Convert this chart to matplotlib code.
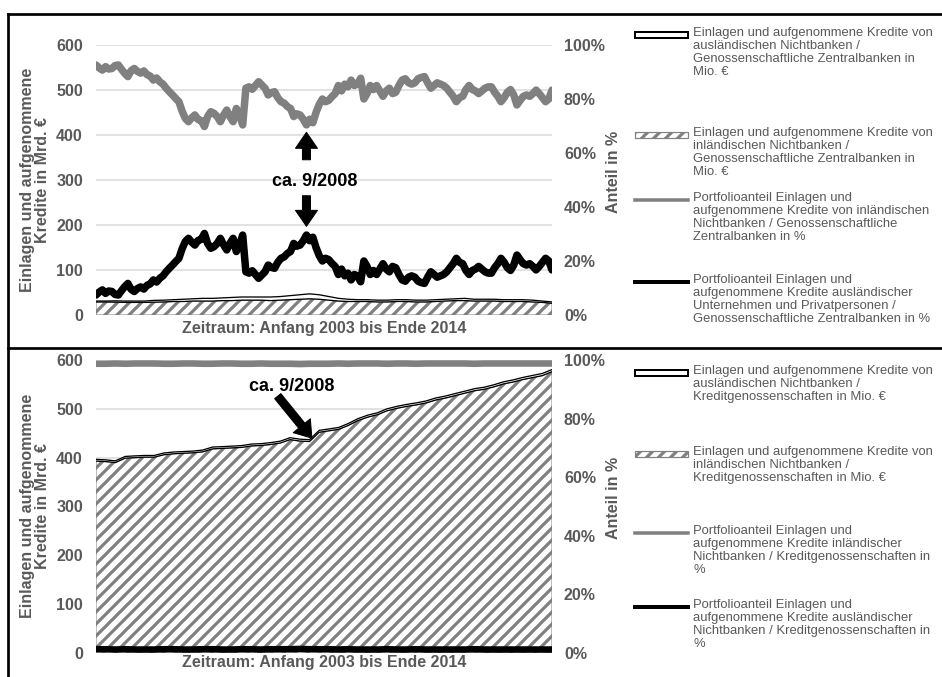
import numpy as np
import matplotlib
matplotlib.use("Agg")
import matplotlib.pyplot as plt
from matplotlib.lines import Line2D
from matplotlib.patches import Rectangle

plt.rcParams['font.family'] = ['Liberation Sans', 'DejaVu Sans']
plt.rcParams['hatch.color'] = '#808080'
plt.rcParams['hatch.linewidth'] = 3.2

W, H, DPI = 942, 677, 72
GRAY = '#808080'
TXT = '#595959'

# --- Genossenschaftliche Zentralbanken, monthly shares in % (2003-2014)
share_foreign_zb = [
    7.4, 8.5, 9.3, 8.0, 8.9, 8.7, 7.6, 7.4, 9.0, 10.5, 11.7, 9.5,
    8.7, 9.8, 10.4, 9.6, 11.0, 11.5, 13.0, 12.2, 13.6, 14.5, 16.0, 17.3,
    18.5, 19.8, 21.0, 24.5, 27.2, 28.4, 27.0, 25.9, 27.6, 28.0, 30.2, 26.5,
    24.7, 25.3, 26.5, 28.4, 26.0, 24.1, 26.5, 28.4, 23.5, 26.0, 29.6, 16.0,
    15.5, 16.4, 15.0, 13.6, 14.8, 16.0, 18.5, 17.6, 17.3, 19.5, 21.0, 21.5,
    22.8, 23.5, 26.5, 25.5, 25.9, 27.5, 29.6, 27.5, 28.8, 25.0, 22.0, 20.0,
    21.0, 20.5, 19.1, 18.0, 15.0, 17.0, 14.5, 15.5, 13.0, 15.0, 14.5, 12.3,
    20.0, 18.0, 15.0, 16.5, 15.0, 17.0, 19.0, 17.0, 16.0, 18.0, 17.5, 15.0,
    13.0, 12.5, 14.0, 14.5, 14.0, 12.5, 12.0, 11.7, 14.0, 16.0, 15.0, 14.0,
    14.5, 15.0, 16.0, 17.5, 19.0, 21.0, 19.5, 19.0, 16.5, 15.0, 16.5, 17.0,
    18.0, 17.0, 16.0, 15.5, 15.5, 17.5, 19.0, 21.0, 19.5, 17.5, 16.5, 18.5,
    22.2, 20.5, 19.0, 18.5, 19.0, 18.0, 16.7, 18.0, 19.5, 21.0, 20.0, 16.7,
]
share_domestic_zb = [
    92.6, 91.5, 90.7, 92.0, 91.1, 91.3, 92.4, 92.6, 91.0, 89.5, 88.3, 90.5,
    91.3, 90.2, 89.6, 90.4, 89.0, 88.5, 87.0, 87.8, 86.4, 85.5, 84.0, 82.7,
    81.5, 80.2, 79.0, 75.5, 72.8, 71.6, 73.0, 74.1, 72.4, 72.0, 69.8, 73.5,
    75.3, 74.7, 73.5, 71.6, 74.0, 75.9, 73.5, 71.6, 76.5, 74.0, 70.4, 84.0,
    84.5, 83.6, 85.0, 86.4, 85.2, 84.0, 81.5, 82.4, 82.7, 80.5, 79.0, 78.5,
    77.2, 76.5, 73.5, 74.5, 74.1, 72.5, 70.4, 72.5, 71.2, 75.0, 78.0, 80.0,
    79.0, 79.5, 80.9, 82.0, 85.0, 83.0, 85.5, 84.5, 87.0, 85.0, 85.5, 87.7,
    80.0, 82.0, 85.0, 83.5, 85.0, 83.0, 81.0, 83.0, 84.0, 82.0, 82.5, 85.0,
    87.0, 87.5, 86.0, 85.5, 86.0, 87.5, 88.0, 88.3, 86.0, 84.0, 85.0, 86.0,
    85.5, 85.0, 84.0, 82.5, 81.0, 79.0, 80.5, 81.0, 83.5, 85.0, 83.5, 83.0,
    82.0, 83.0, 84.0, 84.5, 84.5, 82.5, 81.0, 79.0, 80.5, 82.5, 83.5, 81.5,
    77.8, 79.5, 81.0, 81.5, 81.0, 82.0, 83.3, 82.0, 80.5, 79.0, 80.0, 83.3,
]
# quarterly deposits in Mrd. EUR
dep_domestic_zb = [29, 29, 28.5, 28, 28, 28, 28.5, 29, 30, 30, 31, 31,
                   31, 32, 32, 33, 33, 33, 32, 33, 34, 35, 36, 35,
                   33, 31, 30, 30, 30, 29, 29, 30, 30, 29, 29, 30,
                   31, 32, 32, 31, 31, 31, 30, 30, 30, 29, 28, 26]
dep_foreign_zb = [2, 2, 3, 3, 3, 3, 4, 4, 4, 5, 5, 6,
                  6, 6, 7, 7, 7, 7, 8, 8, 9, 10, 11, 10,
                  8, 6, 5, 4, 4, 4, 4, 4, 4, 4, 4, 4,
                  4, 4, 5, 4, 4, 4, 4, 4, 4, 4, 3, 3]

# --- Kreditgenossenschaften, quarterly
dep_domestic_kg = [393, 392, 390, 399, 400, 401, 401, 406, 408, 409, 410, 412,
                   418, 419, 420, 421, 424, 425, 427, 430, 437, 434, 433, 452,
                   455, 458, 466, 476, 483, 488, 496, 501, 505, 508, 512, 518,
                   522, 527, 532, 537, 540, 545, 551, 555, 560, 564, 568, 576]
dep_foreign_kg = [3.5, 3.5, 3.4, 3.5, 3.6, 3.5, 3.5, 3.6, 3.6, 3.5, 3.5, 3.6,
                  3.7, 3.6, 3.6, 3.7, 3.8, 3.7, 3.8, 3.8, 3.9, 3.9, 3.8, 3.9,
                  3.8, 3.8, 3.9, 3.9, 4.0, 3.9, 4.0, 4.0, 4.0, 4.1, 4.0, 4.1,
                  4.1, 4.2, 4.1, 4.2, 4.2, 4.2, 4.3, 4.3, 4.3, 4.4, 4.4, 4.4]
share_domestic_kg = [98.7, 98.7, 98.8, 98.7, 98.8, 98.8, 98.8, 98.7, 98.7, 98.8, 98.8, 98.7,
                     98.7, 98.8, 98.8, 98.7, 98.7, 98.8, 98.7, 98.7, 98.7, 98.6, 98.7, 98.7,
                     98.7, 98.8, 98.7, 98.8, 98.8, 98.8, 98.7, 98.8, 98.8, 98.7, 98.8, 98.8,
                     98.8, 98.8, 98.8, 98.7, 98.8, 98.8, 98.8, 98.8, 98.8, 98.8, 98.8, 98.8]
share_foreign_kg = [1.3, 1.3, 1.2, 1.3, 1.2, 1.2, 1.2, 1.3, 1.3, 1.2, 1.2, 1.3,
                    1.3, 1.2, 1.2, 1.3, 1.3, 1.2, 1.3, 1.3, 1.3, 1.4, 1.3, 1.3,
                    1.3, 1.2, 1.3, 1.2, 1.2, 1.2, 1.3, 1.2, 1.2, 1.3, 1.2, 1.2,
                    1.2, 1.2, 1.2, 1.3, 1.2, 1.2, 1.2, 1.2, 1.2, 1.2, 1.2, 1.2]

months = np.arange(len(share_foreign_zb))
quarters = np.linspace(0, len(share_foreign_zb) - 1, len(dep_domestic_kg))

legend_zb = [
    "Einlagen und aufgenommene Kredite von\nausländischen Nichtbanken /\nGenossenschaftliche Zentralbanken in\nMio. €",
    "Einlagen und aufgenommene Kredite von\ninländischen Nichtbanken /\nGenossenschaftliche Zentralbanken in\nMio. €",
    "Portfolioanteil Einlagen und\naufgenommene Kredite von inländischen\nNichtbanken / Genossenschaftliche\nZentralbanken in %",
    "Portfolioanteil Einlagen und\naufgenommene Kredite ausländischer\nUnternehmen und Privatpersonen /\nGenossenschaftliche Zentralbanken in %",
]
legend_kg = [
    "Einlagen und aufgenommene Kredite von\nausländischen Nichtbanken /\nKreditgenossenschaften in Mio. €",
    "Einlagen und aufgenommene Kredite von\ninländischen Nichtbanken /\nKreditgenossenschaften in Mio. €",
    "Portfolioanteil Einlagen und\naufgenommene Kredite inländischer\nNichtbanken / Kreditgenossenschaften in\n%",
    "Portfolioanteil Einlagen und\naufgenommene Kredite ausländischer\nNichtbanken / Kreditgenossenschaften in\n%",
]


def fx(px):
    return px / W


def fy(py):
    return 1 - py / H


fig = plt.figure(figsize=(W / DPI, H / DPI), dpi=DPI)


def panel(rect, dom, forg, sh_dom, sh_for, x_share, share_lw):
    ax = fig.add_axes(rect)
    ax.fill_between(quarters, 0, dom, facecolor='white', edgecolor=GRAY,
                    hatch='//', linewidth=1.0, zorder=2)
    top = np.array(dom) + np.array(forg)
    ax.fill_between(quarters, dom, top, facecolor='white', linewidth=0, zorder=3)
    ax.plot(quarters, dom, color='black', lw=1.3, zorder=4)
    ax.plot(quarters, top, color='black', lw=1.3, zorder=4)
    ax.set_xlim(0, len(months) - 1)
    ax.set_ylim(0, 600)
    ax.set_yticks(range(0, 700, 100))
    ax.set_xticks([])
    ax.yaxis.grid(True, color='#d9d9d9', lw=1.5, zorder=0)
    ax.set_axisbelow(True)
    ax.tick_params(axis='y', length=0, pad=13, labelsize=16, labelcolor=TXT)
    for lab in ax.get_yticklabels():
        lab.set_fontweight('bold')
    for s in ax.spines.values():
        s.set_visible(False)

    ax2 = ax.twinx()
    ax2.plot(x_share, sh_dom, color=GRAY, lw=share_lw, solid_joinstyle='round',
             solid_capstyle='round', zorder=5)
    ax2.plot(x_share, sh_for, color='black', lw=share_lw, solid_joinstyle='round',
             solid_capstyle='round', zorder=6)
    ax2.set_ylim(0, 100)
    ax2.set_yticks(range(0, 120, 20))
    ax2.set_yticklabels([f'{v}%' for v in range(0, 120, 20)])
    ax2.set_xlim(0, len(months) - 1)
    ax2.tick_params(axis='y', length=0, pad=12, labelsize=16, labelcolor=TXT)
    for lab in ax2.get_yticklabels():
        lab.set_fontweight('bold')
    for s in ax2.spines.values():
        s.set_visible(False)
    return ax, ax2


left, width = fx(96), 456 / W
ax_top, ax_top2 = panel([left, fy(315), width, 270 / H], dep_domestic_zb, dep_foreign_zb,
                        share_domestic_zb, share_foreign_zb, months, 7.5)
ax_bot, ax_bot2 = panel([left, fy(653), width, 293 / H], dep_domestic_kg, dep_foreign_kg,
                        share_domestic_kg, share_foreign_kg, quarters, 6.5)

# annotations
arrow = dict(arrowstyle='simple,head_length=0.8,head_width=1.1,tail_width=0.4',
             mutation_scale=20, color='black', shrinkA=0, shrinkB=0)
ax_top.annotate('', xy=(66, 406), xytext=(66, 345), arrowprops=arrow)
ax_top.annotate('', xy=(66, 197), xytext=(66, 265), arrowprops=arrow)
ax_top.text(68.5, 297, 'ca. 9/2008', ha='center', va='center', fontsize=18,
            fontweight='bold', color='black')
ax_bot.annotate('', xy=(67.7, 440), xytext=(57, 526), arrowprops=arrow)
ax_bot.text(61.5, 545, 'ca. 9/2008', ha='center', va='center', fontsize=18,
            fontweight='bold', color='black')

# axis titles
for yc, yz in [(180, 329), (506, 662)]:
    fig.text(fx(35), fy(yc), 'Einlagen und aufgenommene\nKredite in Mrd. €', rotation=90,
             ha='center', va='center', fontsize=16, fontweight='bold', color=TXT,
             linespacing=0.95)
    fig.text(fx(614), fy(yc - 8), 'Anteil in %', rotation=90, ha='center', va='center',
             fontsize=16, fontweight='bold', color=TXT)
    fig.text(fx(324), fy(yz), 'Zeitraum: Anfang 2003 bis Ende 2014', ha='center',
             va='center', fontsize=16, fontweight='bold', color=TXT)


# legends
def legend_block(texts, ys):
    kinds = ['band', 'hatch', 'gray', 'black']
    for kind, txt, y in zip(kinds, texts, ys):
        if kind in ('band', 'hatch'):
            r = Rectangle((fx(635), fy(y + 3)), 53 / W, 6 / H, transform=fig.transFigure,
                          facecolor='white',
                          edgecolor='black' if kind == 'band' else GRAY,
                          lw=2 if kind == 'band' else 1.2,
                          hatch='//' if kind == 'hatch' else None)
            fig.add_artist(r)
        else:
            fig.add_artist(Line2D([fx(635), fx(688)], [fy(y), fy(y)],
                                  transform=fig.transFigure,
                                  color=GRAY if kind == 'gray' else 'black',
                                  lw=3.5 if kind == 'gray' else 4))
        fig.text(fx(693), fy(y - 8), txt, ha='left', va='top', fontsize=13,
                 color=TXT, linespacing=1.12)


legend_block(legend_zb, [35, 135, 200, 282])
legend_block(legend_kg, [373, 454, 533, 607])

# frame lines
for xs, ys in [([8, 8], [14, 700]), ([8, 942], [14, 14]), ([8, 942], [348, 348])]:
    fig.add_artist(Line2D([fx(v) for v in xs], [fy(v) for v in ys],
                          transform=fig.transFigure, color='black', lw=2.7))

fig.savefig('out.png', dpi=DPI, facecolor='white')
